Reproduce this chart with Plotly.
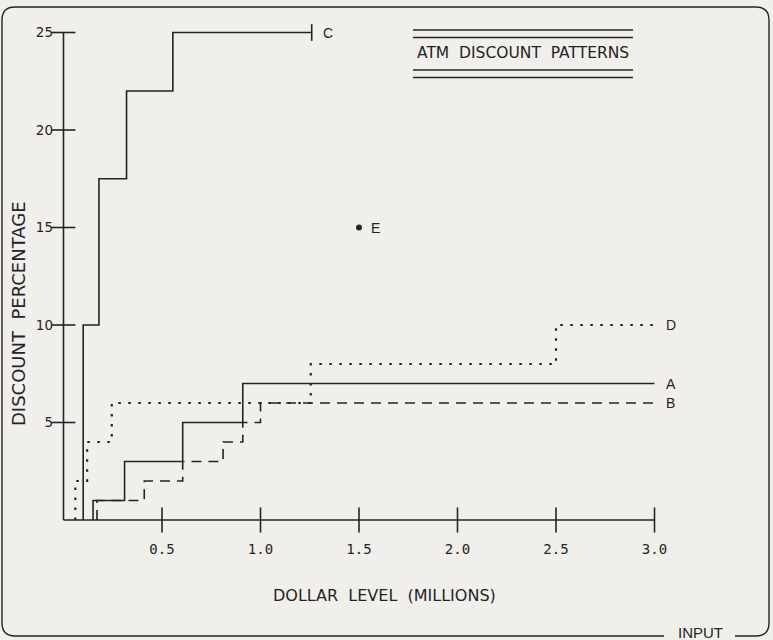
import plotly.graph_objects as go

# ---------------- data ----------------
x_tick_vals = [0.5, 1.0, 1.5, 2.0, 2.5, 3.0]
x_tick_text = ["0.5", "1.0", "1.5", "2.0", "2.5", "3.0"]
y_tick_vals = [5, 10, 15, 20, 25]
y_tick_text = ["5", "10", "15", "20", "25"]

# step thresholds (millions) and the discount (%) reached at each
A_thresholds = [0.15, 0.31, 0.605, 0.91]
A_discount = [1, 3, 5, 7]
A_end = 3.0

B_thresholds = [0.17, 0.41, 0.605, 0.81, 0.91, 1.0]
B_discount = [1, 2, 3, 4, 5, 6]
B_end = 3.0

C_thresholds = [0.10, 0.18, 0.32, 0.555]
C_discount = [10, 17.5, 22, 25]
C_end = 1.26

D_thresholds = [0.06, 0.12, 0.245, 1.255, 2.5]
D_discount = [2, 4, 6, 8, 10]
D_end = 3.0

E_x = [1.5]
E_y = [15]

X_MAX = 3.0
Y_MAX = 25

# ---------------- layout constants ----------------
W, H = 773, 640
L, R, T, B = 54, 109, 19, 110
PW, PH = W - L - R, H - T - B
X0_PX, Y0_PX = 63.5, 520.0      # pixel position of the origin
PX_PER_X, PX_PER_Y = 197.0, 19.5
X_RANGE = [(L - X0_PX) / PX_PER_X, (W - R - X0_PX) / PX_PER_X]
Y_RANGE = [(Y0_PX - (H - B)) / PX_PER_Y, (Y0_PX - T) / PX_PER_Y]
INK = "#242424"
BG = "#f1efeb"


def px(xp):
    return (xp - L) / PW


def py(yp):
    return (H - B - yp) / PH


def steps(th, disc, end):
    xs = [th[0]] + list(th) + [end]
    ys = [0] + list(disc) + [disc[-1]]
    return xs, ys


fig = go.Figure()

# axis lines and crossing ticks
fig.add_trace(go.Scatter(x=[0, X_MAX], y=[0, 0], mode="lines",
                         line=dict(color=INK, width=1.6),
                         showlegend=False, hoverinfo="skip"))
fig.add_trace(go.Scatter(x=[0, 0], y=[0, Y_MAX], mode="lines",
                         line=dict(color=INK, width=1.6),
                         showlegend=False, hoverinfo="skip"))
fig.add_trace(go.Scatter(x=x_tick_vals, y=[0] * len(x_tick_vals), mode="markers",
                         marker=dict(symbol="line-ns", size=18, color=INK,
                                     line=dict(color=INK, width=1.6)),
                         cliponaxis=False, showlegend=False, hoverinfo="skip"))
fig.add_trace(go.Scatter(x=[0] * len(y_tick_vals), y=y_tick_vals, mode="markers",
                         marker=dict(symbol="line-ew", size=17, color=INK,
                                     line=dict(color=INK, width=1.6)),
                         cliponaxis=False, showlegend=False, hoverinfo="skip"))

for name, th, disc, end, dash, lw in [
    ("A", A_thresholds, A_discount, A_end, "solid", 1.6),
    ("B", B_thresholds, B_discount, B_end, "10px,7px", 1.6),
    ("C", C_thresholds, C_discount, C_end, "solid", 1.6),
    ("D", D_thresholds, D_discount, D_end, "2.5px,7.5px", 2.2),
]:
    xs, ys = steps(th, disc, end)
    fig.add_trace(go.Scatter(
        x=xs, y=ys, mode="lines", name=name,
        line=dict(color=INK, width=lw, shape="hv", dash=dash),
        cliponaxis=False, showlegend=False, hoverinfo="skip",
    ))
    fig.add_annotation(x=end, y=disc[-1], text=name, showarrow=False,
                       xanchor="left", yanchor="middle", xshift=9,
                       font=dict(family="Liberation Sans", size=14, color=INK))

# end bar on C
fig.add_trace(go.Scatter(
    x=[C_end], y=[C_discount[-1]], mode="markers",
    marker=dict(symbol="line-ns", size=12, color=INK,
                line=dict(color=INK, width=1.6)),
    cliponaxis=False, showlegend=False, hoverinfo="skip",
))

# point E
fig.add_trace(go.Scatter(
    x=E_x, y=E_y, mode="markers",
    marker=dict(symbol="circle", size=6, color=INK),
    cliponaxis=False, showlegend=False, hoverinfo="skip",
))
fig.add_annotation(x=E_x[0], y=E_y[0], text="E", showarrow=False,
                   xanchor="left", yanchor="middle", xshift=10,
                   font=dict(family="Liberation Sans", size=14, color=INK))

fig.update_layout(
    width=W, height=H,
    margin=dict(l=L, r=R, t=T, b=B),
    paper_bgcolor=BG, plot_bgcolor=BG,
    xaxis=dict(range=X_RANGE, showline=False, showgrid=False, zeroline=False,
               ticks="", tickvals=x_tick_vals, ticktext=x_tick_text,
               tickfont=dict(family="DejaVu Sans Mono", size=14, color=INK),
               ticklabelstandoff=9),
    yaxis=dict(range=Y_RANGE, showline=False, showgrid=False, zeroline=False,
               ticks="", tickvals=y_tick_vals, ticktext=y_tick_text,
               tickfont=dict(family="DejaVu Sans", size=13.5, color=INK),
               ticklabelstandoff=0),
)

# axis titles
fig.add_annotation(xref="paper", yref="paper", x=px(384), y=py(595),
                   xanchor="center", yanchor="middle",
                   text="DOLLAR  LEVEL  (MILLIONS)", showarrow=False,
                   font=dict(family="DejaVu Sans", size=16, color=INK))
fig.add_annotation(xref="paper", yref="paper", x=px(18), y=py(314),
                   xanchor="center", yanchor="middle",
                   text="DISCOUNT  PERCENTAGE", showarrow=False, textangle=-90,
                   font=dict(family="DejaVu Sans", size=18, color=INK))

# title block
fig.add_annotation(xref="paper", yref="paper", x=px(523), y=py(53),
                   xanchor="center", yanchor="middle",
                   text="ATM  DISCOUNT  PATTERNS", showarrow=False,
                   font=dict(family="DejaVu Sans", size=15.5, color=INK))
for yl in (30, 37.5, 70, 77.5):
    fig.add_shape(type="line", xref="paper", yref="paper",
                  x0=px(413), x1=px(633), y0=py(yl), y1=py(yl),
                  line=dict(color=INK, width=1.4))

# outer frame with gap for INPUT
r = 13
x_l, x_r, y_t, y_b = 2, 769, 7, 636
path = (f"M {px(664)},{py(y_b)} L {px(x_l + r)},{py(y_b)} "
        f"Q {px(x_l)},{py(y_b)} {px(x_l)},{py(y_b - r)} "
        f"L {px(x_l)},{py(y_t + r)} Q {px(x_l)},{py(y_t)} {px(x_l + r)},{py(y_t)} "
        f"L {px(x_r - r)},{py(y_t)} Q {px(x_r)},{py(y_t)} {px(x_r)},{py(y_t + r)} "
        f"L {px(x_r)},{py(y_b - r)} Q {px(x_r)},{py(y_b)} {px(x_r - r)},{py(y_b)} "
        f"L {px(735)},{py(y_b)}")
fig.add_shape(type="path", xref="paper", yref="paper", path=path,
              line=dict(color=INK, width=1.4))
fig.add_annotation(xref="paper", yref="paper", x=px(700), y=py(632),
                   xanchor="center", yanchor="middle",
                   text="INPUT", showarrow=False,
                   font=dict(family="Liberation Sans", size=15, color=INK))

fig.write_html("out.html",
               config={"displayModeBar": False},
               post_script="document.body.style.margin='0';"
                           "document.body.style.overflow='hidden';")
